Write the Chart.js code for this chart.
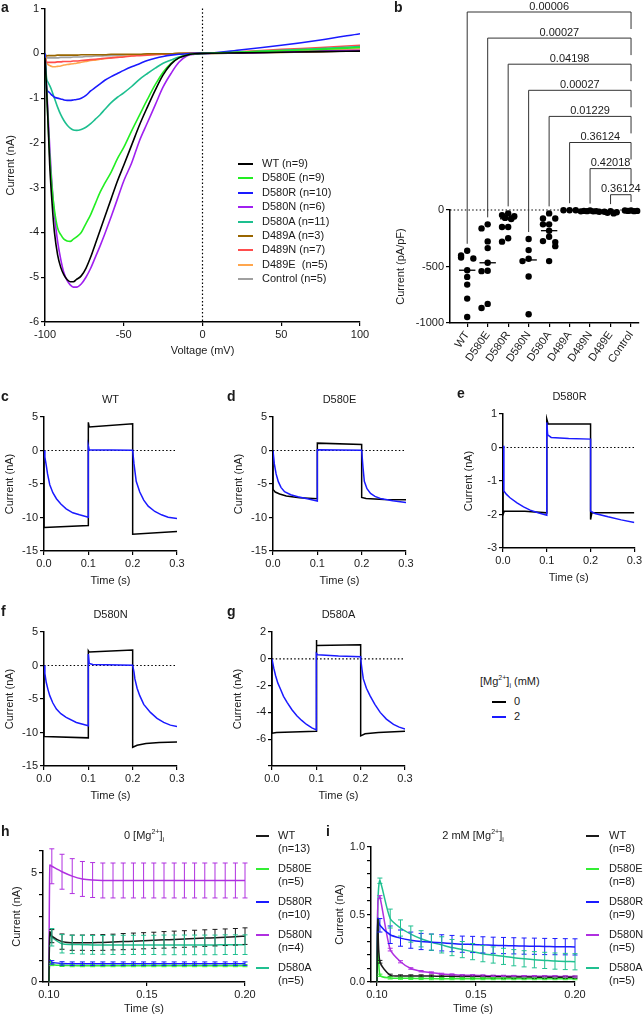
<!DOCTYPE html>
<html>
<head>
<meta charset="utf-8">
<script src="https://cdn.jsdelivr.net/npm/chart.js@4.4.1/dist/chart.umd.min.js"></script>
<style>
  body { margin:0; background:#fff; width:644px; height:1018px; position:relative; overflow:hidden;
         font-family:"Liberation Sans", Arial, sans-serif; color:#1a1a1a; }
  canvas { position:absolute; }
  .txt { position:absolute; font-size:11px; line-height:13px; white-space:pre; }
  .pl { font-weight:bold; font-size:14px; }
  .sw { position:absolute; height:2px; }
  sup, sub { font-size:7px; line-height:0; }
</style>
</head>
<body>
<script>
// ---- panel a: I-V curves ----
var voltA = [-100,-99,-98,-97,-96,-95,-94,-92,-90,-88,-86,-84,-82,-80,-77,-74,-71,-68,-65,-62,-58,-54,-50,-45,-40,-35,-30,-25,-20,-15,-10,-5,0,25,50,75,100];
var ivWT    = [-0.1,-0.8,-1.6,-2.5,-3.1,-3.6,-4.0,-4.5,-4.78,-4.95,-5.05,-5.1,-5.1,-5.05,-4.97,-4.8,-4.55,-4.25,-3.95,-3.65,-3.25,-2.85,-2.5,-2.05,-1.6,-1.2,-0.82,-0.48,-0.24,-0.1,-0.04,-0.01,0,0.01,0.025,0.04,0.05];
var ivD580E = [-0.1,-0.8,-1.6,-2.3,-2.8,-3.2,-3.5,-3.9,-4.05,-4.15,-4.19,-4.2,-4.15,-4.1,-4.0,-3.8,-3.6,-3.35,-3.1,-2.9,-2.65,-2.35,-2.1,-1.73,-1.38,-1.03,-0.7,-0.42,-0.22,-0.1,-0.04,-0.01,0,0.03,0.06,0.09,0.13];
var ivD580R = [0,-0.8,-0.85,-0.88,-0.92,-0.95,-0.98,-1.0,-1.02,-1.04,-1.05,-1.05,-1.04,-1.03,-1.0,-0.94,-0.84,-0.76,-0.68,-0.6,-0.52,-0.45,-0.38,-0.3,-0.23,-0.16,-0.11,-0.07,-0.04,-0.02,-0.01,0,0,0.08,0.18,0.3,0.44];
var ivD580N = [-0.1,-0.7,-1.4,-2.1,-2.7,-3.2,-3.6,-4.2,-4.6,-4.9,-5.07,-5.17,-5.22,-5.22,-5.15,-5.0,-4.8,-4.55,-4.3,-4.03,-3.65,-3.25,-2.85,-2.45,-1.95,-1.55,-1.15,-0.75,-0.45,-0.2,-0.06,-0.02,0,0.01,0.03,0.05,0.07];
var ivD580A = [0,-0.55,-0.65,-0.72,-0.8,-0.9,-1.0,-1.2,-1.37,-1.5,-1.6,-1.67,-1.71,-1.72,-1.7,-1.65,-1.57,-1.47,-1.37,-1.25,-1.1,-0.98,-0.88,-0.74,-0.58,-0.45,-0.33,-0.22,-0.15,-0.08,-0.03,-0.01,0,0.03,0.07,0.11,0.15];
var ivD489A = [0,-0.06,-0.05,-0.05,-0.05,-0.05,-0.05,-0.04,-0.04,-0.04,-0.04,-0.04,-0.04,-0.04,-0.03,-0.03,-0.03,-0.03,-0.03,-0.03,-0.02,-0.02,-0.02,-0.02,-0.02,-0.01,-0.01,-0.01,-0.01,0,0,0,0,0.01,0.02,0.04,0.06];
var ivD489N = [0,-0.2,-0.2,-0.2,-0.2,-0.2,-0.2,-0.19,-0.19,-0.18,-0.18,-0.18,-0.17,-0.17,-0.16,-0.15,-0.14,-0.13,-0.12,-0.11,-0.1,-0.09,-0.08,-0.06,-0.05,-0.04,-0.03,-0.02,-0.01,-0.01,0,0,0,0.04,0.09,0.13,0.18];
var ivD489E = [0,-0.2,-0.25,-0.27,-0.29,-0.3,-0.3,-0.29,-0.28,-0.26,-0.25,-0.24,-0.23,-0.22,-0.2,-0.18,-0.16,-0.15,-0.13,-0.12,-0.1,-0.08,-0.07,-0.05,-0.04,-0.03,-0.02,-0.01,-0.01,0,0,0,0,0.02,0.05,0.07,0.1];
var ivCtrl  = [0,-0.1,-0.1,-0.1,-0.1,-0.1,-0.1,-0.1,-0.09,-0.09,-0.09,-0.09,-0.08,-0.08,-0.08,-0.07,-0.07,-0.06,-0.06,-0.05,-0.05,-0.04,-0.04,-0.03,-0.03,-0.02,-0.02,-0.01,-0.01,0,0,0,0,0.01,0.03,0.04,0.06];
var namesA = ["WT","D580E","D580R","D580N","D580A","D489A","D489N","D489E ","Control"];
var nA = [9,9,10,6,11,3,7,5,5];
var colorsA = ["#000000","#22ee22","#1a1aff","#a020f0","#1dbf8f","#996600","#ff4d4d","#ffa64d","#a0a0a0"];

// ---- panel b: current density ----
var groupsB = ["WT","D580E","D580R","D580N","D580A","D489A","D489N","D489E","Control"];
var bWT    = [-361,-402,-420,-429,-533,-592,-660,-784,-947];
var bD580E = [-127,-163,-278,-337,-467,-538,-541,-831,-867];
var bD580R = [-30,-45,-55,-70,-75,-80,-150,-150,-250,-280];
var bD580N = [-257,-355,-432,-452,-589,-923];
var bD580A = [-30,-75,-75,-127,-127,-183,-237,-275,-284,-320,-452];
var bD489A = [-2,-2,-2];
var bD489N = [-5,-8,-10,-10,-12,-12,-15];
var bD489E = [-10,-15,-20,-25,-30];
var bCtrl  = [-5,-5,-8,-8,-10];
var pValues = ["0.00006","0.00027","0.04198","0.00027","0.01229","0.36124","0.42018","0.36124"];

// ---- panels c-g: traces [time s, current nA] ----
var wt0   = [[0,0],[0,-11.5],[0.1,-11.2],[0.1,4.2],[0.102,3.5],[0.2,4.0],[0.2,-12.5],[0.3,-12.1]];
var wt2   = [[0,0],[0.002,-1],[0.005,-2.2],[0.008,-3.5],[0.013,-5.1],[0.02,-6.3],[0.028,-7.2],[0.038,-8.0],[0.05,-8.7],[0.065,-9.3],[0.08,-9.6],[0.1,-9.95],[0.1,0.7],[0.102,0.1],[0.2,0.05],[0.2,0],[0.203,-2],[0.208,-4.6],[0.216,-6.2],[0.225,-7.4],[0.235,-8.3],[0.25,-9.1],[0.265,-9.6],[0.28,-9.95],[0.3,-10.15]];
var d580e0 = [[0,0],[0,-5.8],[0.005,-6.2],[0.015,-6.5],[0.03,-6.8],[0.06,-7.05],[0.1,-7.2],[0.1,1.1],[0.2,0.9],[0.2,-7.0],[0.21,-7.15],[0.25,-7.3],[0.3,-7.35]];
var d580e2 = [[0,0],[0.003,-2],[0.007,-3.5],[0.012,-4.65],[0.018,-5.5],[0.026,-6.15],[0.04,-6.6],[0.056,-6.9],[0.08,-7.25],[0.1,-7.55],[0.1,0.1],[0.2,0.05],[0.2,0],[0.203,-2.5],[0.206,-4.6],[0.212,-5.7],[0.22,-6.4],[0.23,-6.85],[0.242,-7.15],[0.27,-7.5],[0.3,-7.75]];
var d580r0 = [[0,0],[0,-2.0],[0.003,-1.9],[0.05,-1.9],[0.1,-1.95],[0.1,0.85],[0.103,0.7],[0.2,0.7],[0.2,-2.15],[0.203,-1.95],[0.25,-1.95],[0.3,-1.95]];
var d580r2 = [[0,0.05],[0.002,-1.3],[0.008,-1.4],[0.016,-1.5],[0.032,-1.65],[0.047,-1.77],[0.062,-1.87],[0.08,-1.95],[0.1,-2.02],[0.1,0.75],[0.102,0.38],[0.11,0.3],[0.15,0.27],[0.2,0.25],[0.2,-1.9],[0.21,-1.97],[0.24,-2.07],[0.27,-2.16],[0.3,-2.24]];
var d580n0 = [[0,0],[0,-10.6],[0.1,-10.8],[0.1,2.2],[0.102,2.0],[0.2,2.3],[0.2,-12.2],[0.21,-11.9],[0.23,-11.65],[0.26,-11.5],[0.3,-11.4]];
var d580n2 = [[0,0],[0.002,-1.2],[0.005,-2.5],[0.009,-3.6],[0.013,-4.5],[0.02,-5.6],[0.028,-6.5],[0.038,-7.2],[0.05,-7.75],[0.073,-8.5],[0.1,-9.0],[0.1,1.7],[0.102,0.3],[0.11,0.15],[0.2,0.05],[0.2,0],[0.203,-1],[0.205,-2],[0.21,-3.4],[0.216,-4.5],[0.225,-5.8],[0.24,-7],[0.255,-7.9],[0.27,-8.5],[0.285,-8.9],[0.3,-9.1]];
var d580a0 = [[0,0],[0,-5.55],[0.01,-5.5],[0.1,-5.4],[0.1,1.4],[0.101,1.0],[0.2,1.05],[0.2,-5.75],[0.21,-5.6],[0.24,-5.5],[0.3,-5.4]];
var d580a2 = [[0,0],[0.004,-0.7],[0.008,-1.25],[0.013,-1.8],[0.019,-2.25],[0.026,-2.8],[0.034,-3.25],[0.045,-3.8],[0.056,-4.25],[0.067,-4.6],[0.078,-4.9],[0.09,-5.15],[0.1,-5.3],[0.1,0.4],[0.103,0.3],[0.15,0.2],[0.2,0.15],[0.2,0],[0.203,-0.8],[0.206,-1.5],[0.213,-2.2],[0.221,-2.75],[0.232,-3.4],[0.244,-4.0],[0.258,-4.5],[0.274,-4.9],[0.287,-5.1],[0.3,-5.25]];

// ---- panels h, i: mean +/- SEM ----
var timeHI = [0.1,0.1005,0.1015,0.1067,0.1119,0.1171,0.1223,0.1275,0.1327,0.1379,0.1431,0.1483,0.1535,0.1587,0.1639,0.1691,0.1743,0.1795,0.1847,0.1899,0.1951,0.2];
var hWT    = [0,2.3,2.1,1.85,1.8,1.8,1.8,1.81,1.83,1.85,1.87,1.89,1.91,1.93,1.95,1.97,1.99,2.01,2.03,2.05,2.07,2.1];
var hD580E = [0,1.02,0.8,0.76,0.75,0.75,0.75,0.75,0.75,0.75,0.75,0.75,0.75,0.75,0.75,0.75,0.75,0.75,0.75,0.75,0.75,0.75];
var hD580R = [0,1.0,0.9,0.85,0.84,0.84,0.84,0.84,0.84,0.84,0.84,0.84,0.84,0.84,0.84,0.84,0.84,0.84,0.84,0.84,0.84,0.84];
var hD580N = [0,5.35,5.3,5.05,4.85,4.72,4.67,4.65,4.65,4.65,4.65,4.65,4.65,4.65,4.65,4.65,4.65,4.65,4.65,4.65,4.65,4.65];
var hD580A = [0,2.2,2.05,1.75,1.72,1.71,1.7,1.7,1.7,1.7,1.7,1.7,1.7,1.7,1.7,1.7,1.7,1.7,1.7,1.71,1.71,1.71];
var hErrWT = [null,null,0.3,0.35,0.35,0.35,0.36,0.36,0.36,0.37,0.37,0.37,0.37,0.38,0.38,0.38,0.38,0.38,0.38,0.38,0.38,0.38];
var hErrE  = [null,null,0.05,0.05,0.05,0.05,0.05,0.05,0.05,0.05,0.05,0.05,0.05,0.05,0.05,0.05,0.05,0.05,0.05,0.05,0.05,0.05];
var hErrR  = [null,null,0.08,0.08,0.08,0.08,0.08,0.08,0.08,0.08,0.08,0.08,0.08,0.08,0.08,0.08,0.08,0.08,0.08,0.08,0.08,0.08];
var hErrN  = [null,null,0.8,0.8,0.8,0.8,0.8,0.8,0.8,0.8,0.8,0.8,0.8,0.8,0.8,0.8,0.8,0.8,0.8,0.8,0.8,0.8];
var hErrA  = [null,null,0.4,0.42,0.42,0.43,0.43,0.43,0.44,0.44,0.44,0.44,0.44,0.45,0.45,0.45,0.45,0.45,0.45,0.45,0.45,0.45];
var iWT    = [0,0.47,0.15,0.05,0.045,0.045,0.045,0.044,0.043,0.042,0.041,0.04,0.04,0.039,0.038,0.037,0.037,0.036,0.036,0.035,0.035,0.035];
var iD580E = [0,0.46,0.05,0.03,0.028,0.027,0.026,0.025,0.025,0.025,0.025,0.025,0.025,0.025,0.025,0.025,0.025,0.025,0.025,0.025,0.025,0.025];
var iD580R = [0,0.47,0.42,0.35,0.325,0.31,0.3,0.295,0.29,0.285,0.28,0.278,0.275,0.272,0.27,0.268,0.266,0.265,0.263,0.262,0.261,0.26];
var iD580N = [0,0.6,0.63,0.24,0.15,0.1,0.08,0.07,0.06,0.055,0.05,0.05,0.048,0.046,0.045,0.044,0.043,0.043,0.042,0.042,0.041,0.04];
var iD580A = [0,0.6,0.75,0.47,0.4,0.355,0.32,0.295,0.275,0.255,0.24,0.225,0.21,0.2,0.19,0.18,0.172,0.165,0.16,0.155,0.152,0.15];
var iErrWT = [null,null,0.01,0.008,0.008,0.008,0.008,0.008,0.008,0.008,0.008,0.008,0.008,0.008,0.008,0.008,0.008,0.008,0.008,0.008,0.008,0.008];
var iErrE  = [null,null,0.008,0.008,0.008,0.008,0.008,0.008,0.008,0.008,0.008,0.008,0.008,0.008,0.008,0.008,0.008,0.008,0.008,0.008,0.008,0.008];
var iErrR  = [null,null,0.05,0.065,0.06,0.06,0.06,0.06,0.06,0.06,0.06,0.06,0.06,0.06,0.06,0.06,0.06,0.06,0.06,0.06,0.06,0.06];
var iErrN  = [null,null,0.01,0.01,0.008,0.006,0.005,0.005,0.005,0.005,0.005,0.005,0.005,0.005,0.005,0.005,0.005,0.005,0.005,0.005,0.005,0.005];
var iErrA  = [null,null,0.02,0.07,0.06,0.06,0.06,0.06,0.06,0.06,0.06,0.06,0.06,0.06,0.06,0.06,0.06,0.06,0.06,0.06,0.06,0.06];
var namesHI = ["WT","D580E","D580R","D580N","D580A"];
var nH = [13,5,10,4,5];
var nI = [8,8,9,5,5];
var colorsHI = ["#1a1a1a","#33ee33","#1a1aff","#b030e0","#20c090"];

Chart.defaults.font.family = "'Liberation Sans', Arial, sans-serif";
Chart.defaults.font.size = 11;
Chart.defaults.color = "#1a1a1a";

// dotted reference lines
var refLines = {
  id: "refLines",
  beforeDatasetsDraw: function(chart, args, o) {
    var ctx = chart.ctx, ca = chart.chartArea, x = chart.scales.x, y = chart.scales.y;
    ctx.save();
    ctx.setLineDash([1.5, 2.2]);
    ctx.strokeStyle = "#000";
    ctx.lineWidth = 1.2;
    if (o.h != null) {
      var py = y.getPixelForValue(o.h);
      ctx.beginPath(); ctx.moveTo(ca.left, py); ctx.lineTo(ca.right, py); ctx.stroke();
    }
    if (o.v != null) {
      var px = x.getPixelForValue(o.v);
      ctx.beginPath(); ctx.moveTo(px, ca.top); ctx.lineTo(px, ca.bottom); ctx.stroke();
    }
    ctx.restore();
  }
};

// error bars from dataset.errors
var errorBars = {
  id: "errorBars",
  afterDatasetsDraw: function(chart) {
    var ctx = chart.ctx, y = chart.scales.y;
    chart.data.datasets.forEach(function(ds, i) {
      if (!ds.errors) return;
      var meta = chart.getDatasetMeta(i);
      ctx.save();
      ctx.strokeStyle = ds.errColor || ds.borderColor;
      ctx.lineWidth = 1;
      meta.data.forEach(function(pt, j) {
        var e = ds.errors[j];
        if (e == null) return;
        var v = ds.data[j].y;
        var y1 = y.getPixelForValue(v + e), y2 = y.getPixelForValue(v - e);
        ctx.beginPath();
        ctx.moveTo(pt.x, y1); ctx.lineTo(pt.x, y2);
        ctx.moveTo(pt.x - 2.5, y1); ctx.lineTo(pt.x + 2.5, y1);
        ctx.moveTo(pt.x - 2.5, y2); ctx.lineTo(pt.x + 2.5, y2);
        ctx.stroke();
      });
      ctx.restore();
    });
  }
};

// medians and comparison brackets for panel b
var groupVals = [bWT, bD580E, bD580R, bD580N, bD580A, bD489A, bD489N, bD489E, bCtrl];
function median(a) {
  var s = a.slice().sort(function(p, q) { return p - q; });
  var m = Math.floor(s.length / 2);
  return s.length % 2 ? s[m] : (s[m - 1] + s[m]) / 2;
}
var scatterDeco = {
  id: "scatterDeco",
  afterDraw: function(chart) {
    var ctx = chart.ctx, x = chart.scales.x, y = chart.scales.y, ca = chart.chartArea;
    ctx.save();
    ctx.strokeStyle = "#000";
    ctx.lineWidth = 1.3;
    groupVals.forEach(function(vals, g) {
      var py = y.getPixelForValue(median(vals));
      ctx.beginPath();
      ctx.moveTo(x.getPixelForValue(g - 0.4), py);
      ctx.lineTo(x.getPixelForValue(g + 0.4), py);
      ctx.stroke();
    });
    ctx.strokeStyle = "#333";
    ctx.lineWidth = 1;
    ctx.fillStyle = "#1a1a1a";
    ctx.font = "11px 'Liberation Sans', Arial, sans-serif";
    ctx.textAlign = "center";
    ctx.textBaseline = "alphabetic";
    var xr = x.getPixelForValue(groupVals.length - 1);
    pValues.forEach(function(p, i) {
      var yb = 12 + 26.1 * i;
      var xl = x.getPixelForValue(i);
      var yl = y.getPixelForValue(Math.max.apply(null, groupVals[i])) - 7;
      var yr = Math.min(yb + 17, ca.top - 8);
      ctx.beginPath();
      ctx.moveTo(xl, yl); ctx.lineTo(xl, yb); ctx.lineTo(xr, yb); ctx.lineTo(xr, yr);
      ctx.stroke();
      ctx.fillText(p, (xl + xr) / 2, yb - 2.5);
    });
    ctx.restore();
  }
};

function addText(html, x, y, cls, center) {
  var d = document.createElement("div");
  d.className = "txt " + (cls || "");
  d.innerHTML = html;
  d.style.left = x + "px";
  d.style.top = y + "px";
  if (center) d.style.transform = "translateX(-50%)";
  document.body.appendChild(d);
  return d;
}

function swatch(x, y, w, color) {
  var s = document.createElement("div");
  s.className = "sw";
  s.style.left = x + "px";
  s.style.top = (y - 1) + "px";
  s.style.width = w + "px";
  s.style.background = color;
  document.body.appendChild(s);
}

function axis(o) {
  var a = {
    type: "linear", position: o.pos, min: o.min, max: o.max,
    afterFit: o.fit,
    border: { color: "#000", width: 1.5 },
    grid: { drawOnChartArea: false, drawTicks: true, tickLength: 4, color: "#000", lineWidth: 1.2 },
    ticks: { padding: 2, color: "#1a1a1a", font: { size: 11 }, autoSkip: false,
             maxRotation: o.rot || 0, minRotation: o.rot || 0,
             callback: o.fmt || function(v) { return String(v); } },
    title: { display: !!o.title, text: o.title || "", padding: { top: o.tpad || 2, bottom: 2 }, font: { size: 11 }, color: "#1a1a1a" }
  };
  if (o.step) a.ticks.stepSize = o.step;
  if (o.at) a.afterBuildTicks = function(s) { s.ticks = o.at.map(function(v) { return { value: v }; }); };
  return a;
}

function makeChart(p) {
  var c = document.createElement("canvas");
  c.width = p.w; c.height = p.h;
  c.style.left = p.left + "px"; c.style.top = p.top + "px";
  c.style.width = p.w + "px"; c.style.height = p.h + "px";
  document.body.appendChild(c);
  var a = p.area;
  p.x.pos = "bottom"; p.y.pos = "left";
  p.x.fit = function(s) { s.height = p.h - a.b; };
  p.y.fit = function(s) { s.width = a.l; };
  return new Chart(c.getContext("2d"), {
    type: "line",
    data: { datasets: p.datasets },
    options: {
      responsive: false, animation: false, devicePixelRatio: 1,
      layout: { padding: { left: 0, top: a.t, right: p.w - a.r, bottom: 0 } },
      plugins: { legend: { display: false }, tooltip: { enabled: false }, refLines: p.ref || {} },
      elements: { point: { radius: 0 }, line: { borderWidth: 1.5, tension: 0 } },
      scales: { x: axis(p.x), y: axis(p.y) }
    },
    plugins: [refLines, errorBars].concat(p.extra || [])
  });
}

function pts(xs, ys) {
  return xs.map(function(v, i) { return { x: v, y: ys[i] }; });
}
function pairs(arr) {
  return arr.map(function(q) { return { x: q[0], y: q[1] }; });
}

// ---- a ----
var ivSeries = [ivWT, ivD580E, ivD580R, ivD580N, ivD580A, ivD489A, ivD489N, ivD489E, ivCtrl];
makeChart({
  left: 0, top: 0, w: 372, h: 360, area: { l: 45, t: 7, r: 360, b: 322 },
  x: { min: -100, max: 100, step: 50, title: "Voltage (mV)" },
  y: { min: -6, max: 1, step: 1, title: "Current (nA)", tpad: 4 },
  ref: { v: 0 },
  datasets: ivSeries.map(function(s, i) {
    return { data: pts(voltA, s), borderColor: colorsA[i], borderWidth: 1.6, cubicInterpolationMode: "monotone" };
  })
});
namesA.forEach(function(n, i) {
  var yy = 164 + 14.4 * i;
  swatch(238, yy, 15, colorsA[i]);
  addText(n + " (n=" + nA[i] + ")", 262, yy - 7);
});
addText("a", 1, 1, "pl");

// ---- b ----
var spread = [0, -0.3, 0.3, -0.15, 0.15, -0.45, 0.45];
var bPoints = [];
groupVals.forEach(function(vals, g) {
  var placed = [];
  vals.forEach(function(v) {
    var near = placed.filter(function(u) { return Math.abs(u - v) < 50; }).length;
    bPoints.push({ x: g + spread[near % spread.length], y: v });
    placed.push(v);
  });
});
makeChart({
  left: 380, top: 0, w: 264, h: 372, area: { l: 70, t: 210, r: 636, b: 323 },
  x: { min: -0.84, max: 8.35, at: groupsB.map(function(g, i) { return i; }), rot: 55,
       fmt: function(v) { return groupsB[v]; } },
  y: { min: -1000, max: 0, step: 500, title: "Current (pA/pF)", tpad: 14 },
  ref: { h: 0 },
  extra: [scatterDeco],
  datasets: [{ data: bPoints, showLine: false, pointRadius: 3.2, pointBackgroundColor: "#000",
               pointBorderColor: "#000", pointBorderWidth: 0, clip: false }]
});
addText("b", 394, 1, "pl");

// ---- c-g ----
function tracePanel(left, top, w, ymin, ymax, ystep, trace0, trace2, title, letter, lx) {
  makeChart({
    left: left, top: top, w: w, h: 200, area: { l: 44, t: 27, r: 177, b: 161 },
    x: { min: 0, max: 0.3, step: 0.1, title: "Time (s)", fmt: function(v) { return v.toFixed(1); } },
    y: { min: ymin, max: ymax, step: ystep, title: "Current (nA)", tpad: 3,
         fmt: function(v) { return v === ymin && ymin === -8 ? "" : String(v); } },
    ref: { h: 0 },
    datasets: [
      { data: pairs(trace2), borderColor: "#1a1aff", borderWidth: 1.5 },
      { data: pairs(trace0), borderColor: "#000", borderWidth: 1.5 }
    ]
  });
  addText(title, left + 110.5, top + 3, "", true);
  addText(letter, lx, top, "pl");
}
tracePanel(0, 390, 215, -15, 5, 5, wt0, wt2, "WT", "c", 1);
tracePanel(229, 390, 215, -15, 5, 5, d580e0, d580e2, "D580E", "d", 227);
tracePanel(459, 387, 185, -3, 1, 1, d580r0, d580r2, "D580R", "e", 457);
tracePanel(0, 605, 215, -15, 5, 5, d580n0, d580n2, "D580N", "f", 1);
tracePanel(228, 605, 215, -8, 2, 2, d580a0, d580a2, "D580A", "g", 227);

addText("[Mg<sup>2+</sup>]<sub>i</sub> (mM)", 480, 675);
swatch(492, 702, 14, "#000");
addText("0", 514, 695);
swatch(492, 717, 14, "#1a1aff");
addText("2", 514, 710);

// ---- h, i ----
function hiDatasets(series, errs) {
  return series.map(function(s, i) {
    return { data: pts(timeHI, s), errors: errs[i], borderColor: colorsHI[i], borderWidth: 1.5, tension: 0.25 };
  });
}
makeChart({
  left: 0, top: 820, w: 322, h: 198, area: { l: 43, t: 31, r: 245, b: 162 },
  x: { min: 0.097, max: 0.2, at: [0.1, 0.15, 0.2], title: "Time (s)", fmt: function(v) { return v.toFixed(2); } },
  y: { min: 0, max: 6, step: 1, title: "Current (nA)", tpad: 10,
       fmt: function(v) { return (v === 0 || v === 5) ? String(v) : ""; } },
  datasets: hiDatasets([hWT, hD580E, hD580R, hD580N, hD580A], [hErrWT, hErrE, hErrR, hErrN, hErrA])
});
makeChart({
  left: 322, top: 820, w: 322, h: 198, area: { l: 49, t: 27, r: 253, b: 162 },
  x: { min: 0.097, max: 0.2, at: [0.1, 0.15, 0.2], title: "Time (s)", fmt: function(v) { return v.toFixed(2); } },
  y: { min: 0, max: 1, step: 0.1, title: "Current (nA)", tpad: 11,
       fmt: function(v) { var r = Math.round(v * 10); return (r % 5 === 0) ? v.toFixed(1) : ""; } },
  datasets: hiDatasets([iWT, iD580E, iD580R, iD580N, iD580A], [iErrWT, iErrE, iErrR, iErrN, iErrA])
});
addText("0 [Mg<sup>2+</sup>]<sub>i</sub>", 144, 829, "", true);
addText("2 mM [Mg<sup>2+</sup>]<sub>i</sub>", 473, 829, "", true);
addText("h", 1, 825, "pl");
addText("i", 326, 825, "pl");
namesHI.forEach(function(n, i) {
  var yy = 836 + 33 * i;
  swatch(256, yy, 13, colorsHI[i]);
  addText(n + "\n(n=" + nH[i] + ")", 278, yy - 7);
  swatch(586, yy, 13, colorsHI[i]);
  addText(n + "\n(n=" + nI[i] + ")", 609, yy - 7);
});
</script>
</body>
</html>
